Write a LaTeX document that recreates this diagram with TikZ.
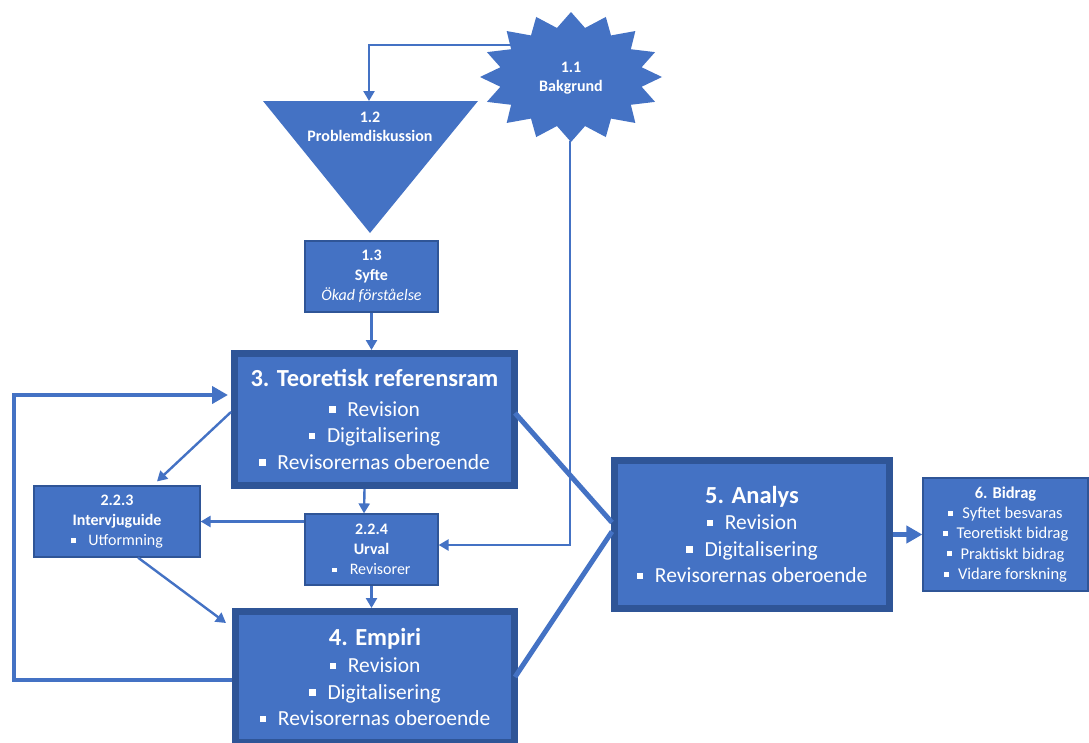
\documentclass[tikz,border=0pt]{standalone}
\usepackage{fontspec}
\setmainfont{Carlito}
\usetikzlibrary{calc,arrows.meta}
\definecolor{bfill}{HTML}{4472C4}
\definecolor{bdark}{HTML}{2F5597}
\definecolor{lineb}{HTML}{4472C4}
\newcommand{\bul}{\raisebox{0.16em}{\rule{0.3em}{0.3em}}\hspace{0.55em}}
\newcommand{\bulw}{\raisebox{0.16em}{\rule{0.28em}{0.28em}}\hspace{0.8em}}
\begin{document}
\begin{tikzpicture}[x=1pt,y=-1pt,
 bigbox/.style={draw=bdark, line width=7pt, fill=bfill, text=white, align=center, inner sep=0pt,
   font=\fontsize{21.5}{26.5}\selectfont},
 smallbox/.style={draw=bdark, line width=1.2pt, fill=bfill, text=white, align=center, inner sep=0pt,
   font=\fontsize{16}{20}\selectfont},
 shapetext/.style={text=white, align=center, font=\fontsize{16}{19.5}\selectfont\bfseries},
 arr/.style={draw=lineb, line width=2.4pt, -{Triangle[length=10pt,width=11pt]}},
 thickarr/.style={draw=lineb, line width=4.5pt, -{Triangle[length=16pt,width=17pt]}},
 thickline/.style={draw=lineb, line width=5pt},
]
\path[use as bounding box] (0,0) rectangle (1089,742);
\clip (0,0) rectangle (1089,742);

% 1.1 star
\fill[bfill] plot[samples=33,domain=0:32,variable=\k]
  ({571+(81.5+9.5*cos(\k*180))*cos(90+\k*11.25)}, {77-(57.5+7.5*cos(\k*180))*sin(90+\k*11.25)}) -- cycle;
\node[shapetext] (bg) at (571,78) {1.1\\Bakgrund};
\coordinate (bgL) at (513,45);
\coordinate (bgB) at (570,141);

% 1.2 triangle
\fill[bfill] (263,101) -- (478,101) -- (370,233) -- cycle;
\node[shapetext] (pd) at (370,127) {1.2\\Problemdiskussion};
\coordinate (pdT) at (369,101);

% 1.3
\node[smallbox, minimum width=133pt, minimum height=71pt] (sy) at (371.5,276.5)
  {\textbf{1.3}\\\textbf{Syfte}\\\textit{Ökad förståelse}};

% 3
\node[bigbox, minimum width=280pt, minimum height=132pt] (b3) at (374.5,419.5)
  {{\fontsize{24.5}{27}\selectfont\bfseries 3. Teoretisk referensram}\\[3pt]
   \bul Revision\\ \bul Digitalisering\\ \bul Revisorernas oberoende};

% 2.2.3
\node[smallbox, minimum width=166pt, minimum height=71pt] (ig) at (117,521.5)
  {\textbf{2.2.3}\\\textbf{Intervjuguide}\\\bulw Utformning};

% 2.2.4
\node[smallbox, minimum width=133pt, minimum height=71pt] (urv) at (371.5,549.5)
  {\textbf{2.2.4}\\\textbf{Urval}\\\bulw Revisorer};

% 4
\node[bigbox, minimum width=279pt, minimum height=131pt] (b4) at (375,677)
  {{\fontsize{24.5}{27}\selectfont\bfseries 4. Empiri}\\[1pt]
   \bul Revision\\ \bul Digitalisering\\ \bul Revisorernas oberoende};

% 5
\node[bigbox, minimum width=275pt, minimum height=148pt] (an) at (752,534.5)
  {{\fontsize{24.5}{27}\selectfont\bfseries 5. Analys}\\[0pt]
   \bul Revision\\ \bul Digitalisering\\ \bul Revisorernas oberoende};

% 6
\node[smallbox, minimum width=165pt, minimum height=113pt, font=\fontsize{16.5}{20.2}\selectfont] (bd) at (1005.5,534.5)
  {\textbf{6. Bidrag}\\ \bul Syftet besvaras\\ \bul Teoretiskt bidrag\\ \bul Praktiskt bidrag\\ \bul Vidare forskning};

% connectors
\draw[arr] (bgL) -| (pdT);
\draw[arr] (bgB) |- ($(urv.east)+(0,-4.5)$);
\draw[arr] (sy.south) -- (sy.south |- b3.north);
\draw[arr] ($(b3.south)+(-10,0)$) -- ($(urv.north)+(-7.5,0)$);
\draw[arr] (urv.south) -- (urv.south |- b4.north);
\draw[arr] (urv.west |- ig.east) -- (ig.east);
\draw[arr] ($(b3.west)+(0,-7.5)$) -- ($(ig.north)+(40,-4)$);
\draw[arr] ($(ig.south)+(21,0)$) -- ($(b4.west)+(-6,-54)$);
\coordinate (lp) at (14,395);
\draw[thickarr] ($(b4.west)+(0,3)$) -| (lp) -- ($(b3.west)+(-3,-24.5)$);
\draw[thickline] ($(b3.east)+(-3,-6.5)$) -- ($(an.west)+(1,-12)$);
\draw[thickline] ($(b4.east)+(-3,0)$) -- ($(an.west)+(1,-3)$);
\draw[thickarr] (an.east) -- (bd.west);
\end{tikzpicture}
\end{document}
